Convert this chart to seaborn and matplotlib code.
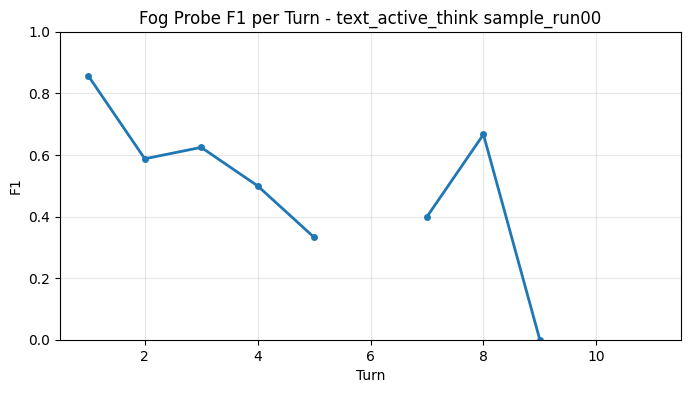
import numpy as np
import pandas as pd
import matplotlib
matplotlib.use('Agg')
import matplotlib.pyplot as plt
import seaborn as sns

turns = [1, 2, 3, 4, 5, 6, 7, 8, 9, 10, 11]
f1 = [0.857, 0.588, 0.625, 0.5, 0.333, np.nan, 0.4, 0.667, 0.0, np.nan, np.nan]

df = pd.DataFrame({'Turn': turns, 'F1': f1})
# break the line where F1 is missing
df['segment'] = df['F1'].isna().cumsum()
df = df.dropna()

fig, ax = plt.subplots(figsize=(6.91, 3.93), dpi=100)
sns.lineplot(data=df, x='Turn', y='F1', units='segment', estimator=None,
             marker='o', markersize=5, markeredgewidth=0, linewidth=2,
             color='#1f77b4', ax=ax)
ax.set_xlim(0.5, 11.5)
ax.set_ylim(0, 1)
ax.grid(True, alpha=0.3)
ax.set_title('Fog Probe F1 per Turn - text_active_think sample_run00')
ax.set_xlabel('Turn')
ax.set_ylabel('F1')
plt.subplots_adjust(left=0.087, right=0.9855, top=0.919, bottom=0.135)
plt.savefig('out.png', dpi=100)
